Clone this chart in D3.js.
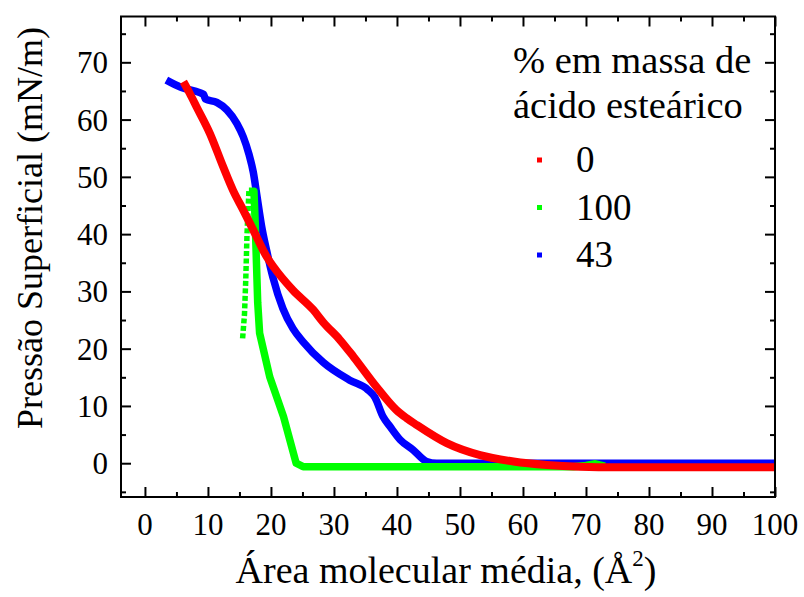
<!DOCTYPE html>
<html>
<head>
<meta charset="utf-8">
<script src="https://cdn.jsdelivr.net/npm/d3@7"></script>
<style>
  body { margin: 0; background: #fff; }
  text { font-family: "Liberation Serif", "Times New Roman", serif; fill: #000; }
</style>
</head>
<body>
<div id="chart"></div>
<script>
var w = 804;
var h = 597;

// data: [area (A^2), pressure (mN/m)]
var series0 = [[6.1,66.6],[7.1,64.6],[8.2,62.2],[10.3,57.6],[12.4,51.8],[14,47.6],
  [15.6,44.2],[17.2,40.7],[19.3,36.1],[20.4,34.3],[23.5,30.2],
  [26.7,26.8],[28.3,24.6],[30.9,21.6],[33.1,18.6],[36.7,13.4],[39.9,9.3],[41.5,7.9],[43.1,6.7],
  [47.9,3.5],[53.2,1.4],[58.5,0.3],[63.8,-0.3],[69,-0.6],[75,-0.7],[100,-0.7]];

var series100Rise = [[15.5,21.8],[15.8,26],[16,32],[16.2,40],[16.5,47.5]];
var series100 = [[16.5,47.5],[17.3,47.5],[17.5,42],[17.7,35],[17.9,28],[18.2,22.7],[19.8,15.1],
  [22,8.1],[24,0],[25.1,-0.6],[68,-0.6],[70,-0.4],[71.5,-0.1],[73,-0.5]];

var series43 = [[3.4,66.9],[5.8,65.6],[8.7,64.7],[9.3,64.4],[9.6,63.6],[11.4,63],[13,61.7],[14.6,59.3],
  [15.6,57],[16.5,54],[17.2,50.8],[17.8,46.5],[18.5,41.5],[19.3,37.2],[20.3,32.5],[21.9,27],
  [23.5,23.5],[25.1,21.2],[28.3,17.6],[32.5,14.5],[35.4,12.8],[36.5,11.5],[37.8,8.1],[38.9,6.4],
  [40.5,4.1],[42.6,2.3],[44.7,0.3],[46.3,0],[100,0]];

var legendLabels = ['0', '100', '43'];
var legendColors = ['#ff0000', '#00ff00', '#0000ff'];
var xTicks = [0,10,20,30,40,50,60,70,80,90,100];
var yTicks = [0,10,20,30,40,50,60,70];
var xMinor = [5,15,25,35,45,55,65,75,85,95];
var yMinor = [-5,5,15,25,35,45,55,65,75];

var pLeft = 121, pRight = 775, pTop = 16.5, pBottom = 497;

var svg = d3.select('#chart')
            .append('svg')
            .attr('width', w)
            .attr('height', h);

var x = d3.scaleLinear().domain([-3.8, 100]).range([pLeft, pRight]);
var y = d3.scaleLinear().domain([-5.9, 78]).range([pBottom, pTop]);

// ticks, inward on all four sides
function tickAxis(gen, vals, len, tx, ty) {
    svg.append('g')
       .attr('transform', 'translate(' + tx + ',' + ty + ')')
       .call(gen.tickValues(vals).tickSize(-len).tickFormat(''))
       .call(function(g){ g.select('.domain').remove(); })
       .selectAll('line').attr('stroke', '#000').attr('stroke-width', 2);
}
tickAxis(d3.axisBottom(x), xTicks, 10, 0, pBottom);
tickAxis(d3.axisBottom(x), xMinor, 5, 0, pBottom);
tickAxis(d3.axisTop(x), xTicks, 10, 0, pTop);
tickAxis(d3.axisTop(x), xMinor, 5, 0, pTop);
tickAxis(d3.axisLeft(y), yTicks, 10, pLeft, 0);
tickAxis(d3.axisLeft(y), yMinor, 5, pLeft, 0);
tickAxis(d3.axisRight(y), yTicks, 10, pRight, 0);
tickAxis(d3.axisRight(y), yMinor, 5, pRight, 0);

// tick labels
svg.append('g').selectAll('text')
   .data(xTicks).enter().append('text')
   .attr('x', function(d){ return x(d); })
   .attr('y', 535)
   .attr('text-anchor', 'middle')
   .style('font-size', '31px')
   .text(function(d){ return d; });

svg.append('g').selectAll('text')
   .data(yTicks).enter().append('text')
   .attr('x', 108)
   .attr('y', function(d){ return y(d) + 11; })
   .attr('text-anchor', 'end')
   .style('font-size', '31px')
   .text(function(d){ return d; });

// curves
var line = d3.line()
             .x(function(d){ return x(d[0]); })
             .y(function(d){ return y(d[1]); });
var smooth = d3.line()
             .curve(d3.curveMonotoneX)
             .x(function(d){ return x(d[0]); })
             .y(function(d){ return y(d[1]); });

var plot = svg.append('g');

plot.append('path').datum(series43)
    .attr('d', smooth).attr('fill', 'none')
    .attr('stroke', legendColors[2]).attr('stroke-width', 7.5)
    .attr('stroke-linejoin', 'round');

plot.append('path').datum(series100Rise)
    .attr('d', line).attr('fill', 'none')
    .attr('stroke', legendColors[1]).attr('stroke-width', 5.5)
    .attr('stroke-dasharray', '5,2.5');

plot.append('path').datum(series100)
    .attr('d', line).attr('fill', 'none')
    .attr('stroke', legendColors[1]).attr('stroke-width', 7.5)
    .attr('stroke-linejoin', 'round');

plot.append('path').datum(series0)
    .attr('d', smooth).attr('fill', 'none')
    .attr('stroke', legendColors[0]).attr('stroke-width', 8)
    .attr('stroke-linejoin', 'round');

// frame
svg.append('rect')
   .attr('x', pLeft).attr('y', pTop)
   .attr('width', pRight - pLeft).attr('height', pBottom - pTop)
   .attr('fill', 'none').attr('stroke', '#000').attr('stroke-width', 2);

// axis titles
var xt = svg.append('text')
   .attr('x', 446).attr('y', 583)
   .attr('text-anchor', 'middle')
   .style('font-size', '38px');
xt.append('tspan').text('Área molecular média, (Å');
xt.append('tspan').attr('dy', -17).style('font-size', '23px').text('2');
xt.append('tspan').attr('dy', 17).text(')');

svg.append('text')
   .attr('transform', 'translate(42,228) rotate(-90)')
   .attr('text-anchor', 'middle')
   .style('font-size', '36px')
   .text('Pressão Superficial (mN/m)');

// legend
var legend = svg.append('g');
legend.append('text').attr('x', 513).attr('y', 73)
      .style('font-size', '38.5px').text('% em massa de');
legend.append('text').attr('x', 513).attr('y', 118)
      .style('font-size', '38.5px').text('ácido esteárico');

var items = legend.selectAll('g.item')
      .data(legendLabels).enter().append('g')
      .attr('class', 'item')
      .attr('transform', function(d, i){ return 'translate(0,' + (160 + i * 47.5) + ')'; });
items.append('rect')
     .attr('x', 537).attr('y', -2.5).attr('width', 5).attr('height', 5)
     .attr('fill', function(d, i){ return legendColors[i]; });
items.append('text')
     .attr('x', 576).attr('y', 12)
     .style('font-size', '37px')
     .text(function(d){ return d; });
</script>
</body>
</html>
